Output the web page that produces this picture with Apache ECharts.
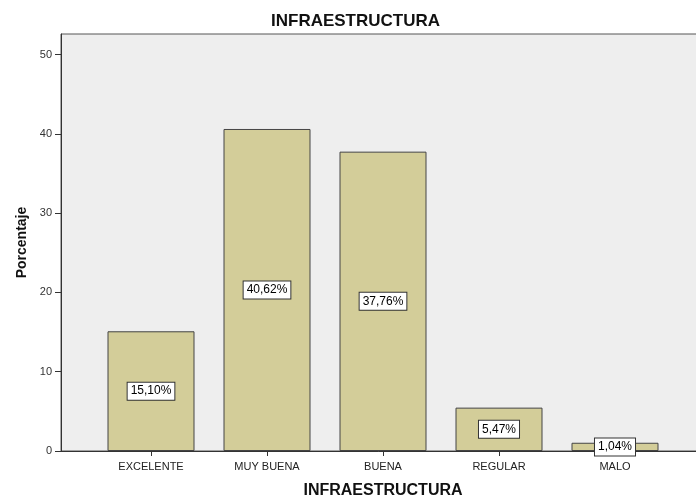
<!DOCTYPE html>
<html>
<head>
<meta charset="utf-8">
<script src="https://cdn.jsdelivr.net/npm/echarts@6/dist/echarts.min.js"></script>
<style>
  html, body { margin: 0; padding: 0; background: #ffffff; }
  #chart { width: 696px; height: 498px; }
</style>
</head>
<body>
<div id="chart"></div>
<script>
// Categories and percentages
const categories = ['EXCELENTE', 'MUY BUENA', 'BUENA', 'REGULAR', 'MALO'];
const percentages = [15.10, 40.62, 37.76, 5.47, 1.04];
const yTicks = [0, 10, 20, 30, 40, 50];

const FONT = 'Liberation Sans, Arial, sans-serif';
const Y_MAX = 52.6;

const chart = echarts.init(document.getElementById('chart'), null, { renderer: 'canvas' });

chart.setOption({
  animation: false,
  backgroundColor: '#ffffff',
  title: {
    text: 'INFRAESTRUCTURA',
    left: 266,
    top: 8,
    textStyle: { fontFamily: FONT, fontSize: 17, fontWeight: 'bold', color: '#111' }
  },
  grid: [
    // frame with grey background and y axis
    { left: 61, right: -2, top: 34, bottom: 47, show: true, backgroundColor: '#eeeeee',
      borderColor: '#555', borderWidth: 1, outerBoundsMode: 'none' },
    // bars
    { left: 93, right: 23, top: 34, bottom: 47, show: false, outerBoundsMode: 'none' }
  ],
  xAxis: [
    {
      gridIndex: 0, type: 'value', min: 0, max: 1,
      axisLine: { show: true, lineStyle: { color: '#333', width: 1 } },
      axisTick: { show: false }, axisLabel: { show: false }, splitLine: { show: false }
    },
    {
      gridIndex: 1, type: 'category', data: categories,
      axisLine: { show: false },
      axisTick: { show: true, alignWithLabel: true, length: 5, lineStyle: { color: '#333' } },
      axisLabel: { fontFamily: FONT, fontSize: 11, color: '#222', margin: 10 },
      name: 'INFRAESTRUCTURA', nameLocation: 'middle', nameGap: 32, nameMoveOverlap: false,
      nameTextStyle: { fontFamily: FONT, fontSize: 16, fontWeight: 'bold', color: '#111' }
    }
  ],
  yAxis: [
    {
      gridIndex: 0, type: 'value', min: 0, max: Y_MAX,
      axisLine: { show: true, lineStyle: { color: '#333', width: 1 } },
      axisTick: { show: true, length: 6, customValues: yTicks, lineStyle: { color: '#333' } },
      axisLabel: { fontFamily: FONT, fontSize: 11, color: '#333', margin: 9, customValues: yTicks },
      splitLine: { show: false },
      name: 'Porcentaje', nameLocation: 'middle', nameGap: 32, nameMoveOverlap: false,
      nameTextStyle: { fontFamily: FONT, fontSize: 14, fontWeight: 'bold', color: '#111' }
    },
    {
      gridIndex: 1, type: 'value', min: 0, max: Y_MAX, show: false
    }
  ],
  series: [
    {
      type: 'bar',
      xAxisIndex: 1,
      yAxisIndex: 1,
      data: percentages,
      barWidth: '75%',
      itemStyle: { color: '#d3cd99', borderColor: '#444', borderWidth: 1 },
      label: {
        show: true,
        position: 'inside',
        formatter: p => p.value.toFixed(2).replace('.', ',') + '%',
        fontFamily: FONT,
        fontSize: 12,
        color: '#000',
        backgroundColor: '#ffffff',
        borderColor: '#333',
        borderWidth: 1,
        padding: [3, 3, 2, 3]
      }
    }
  ]
});
</script>
</body>
</html>
